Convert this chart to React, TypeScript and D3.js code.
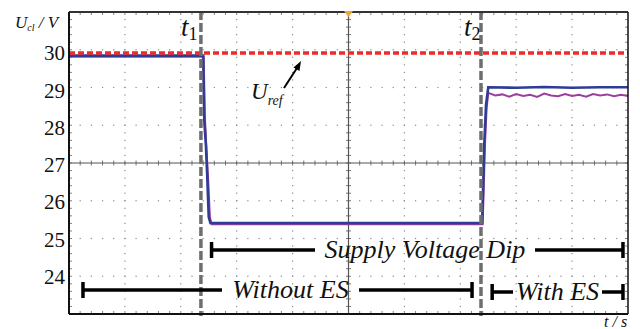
import React from "react";
import * as d3 from "d3";

// Scope trace of the DC-link voltage U_cl (in V) against time (in screen divisions)
const yTicks = [24, 25, 26, 27, 28, 29, 30];
const uRef = 30;
const t1 = 2.36;
const t2 = 7.37;

const blueT = [0, 2.4, 2.42, 2.45, 2.47, 2.5, 2.53, 7.39, 7.41, 7.43, 7.46, 7.5, 8.0, 8.5, 9.0, 9.5, 10];
const blueV = [29.93, 29.93, 28.2, 27.5, 26.8, 25.6, 25.44, 25.44, 26.5, 27.6, 28.6, 29.08, 29.07, 29.09, 29.07, 29.08, 29.08];

const purpleT = [0, 2.41, 2.43, 2.46, 2.49, 2.52, 2.55, 7.4, 7.42, 7.44, 7.47, 7.5,
  7.625, 7.75, 7.875, 8.0, 8.125, 8.25, 8.375, 8.5, 8.625, 8.75, 8.875, 9.0, 9.125, 9.25, 9.375, 9.5, 9.625, 9.75, 9.875, 10];
const purpleV = [29.9, 29.9, 28.3, 27.4, 26.6, 25.6, 25.41, 25.41, 26.4, 27.5, 28.5, 28.93,
  28.86, 28.89, 28.83, 28.9, 28.85, 28.88, 28.82, 28.91, 28.86, 28.84, 28.9, 28.85, 28.88, 28.83, 28.9, 28.86, 28.89, 28.84, 28.88, 28.85];

const W = 640;
const H = 329;
const L = 69, R = 628, T = 12, B = 314;

const x = d3.scaleLinear().domain([0, 10]).range([L, R]);
const y = d3.scaleLinear().domain([23, 31.1]).range([B, T]);

const FONT = "Liberation Serif";

function Bracket({ a, b, yy, label, gapL, gapR, size }: any) {
  const xa = x(a), xb = x(b);
  return (
    <g>
      <g stroke="#000" strokeWidth={3.5}>
        <line x1={xa} x2={xa} y1={yy - 8} y2={yy + 8} />
        <line x1={xb} x2={xb} y1={yy - 8} y2={yy + 8} />
        <line x1={xa} x2={gapL} y1={yy} y2={yy} />
        <line x1={gapR} x2={xb} y1={yy} y2={yy} />
      </g>
      <text x={(gapL + gapR) / 2} y={yy + 8} textAnchor="middle"
        fontFamily={FONT} fontStyle="italic" fontSize={size} fill="#111">{label}</text>
    </g>
  );
}

export default function App() {
  const divW = (R - L) / 10;
  const divH = (B - T) / 8;
  const dots: any[] = [];
  // dotted graticule
  for (let i = 1; i < 10; i++) {
    if (i === 5) continue;
    const gx = L + i * divW;
    for (let k = 1; k < 40; k++) {
      dots.push(<rect key={`v${i}-${k}`} x={gx - 0.6} y={T + k * divH / 5 - 0.6} width={1.2} height={1.2} fill="#8a8a8a" />);
    }
  }
  for (let j = 1; j < 8; j++) {
    if (j === 4) continue;
    const gy = T + j * divH;
    for (let k = 1; k < 50; k++) {
      dots.push(<rect key={`h${j}-${k}`} x={L + k * divW / 5 - 0.6} y={gy - 0.6} width={1.2} height={1.2} fill="#8a8a8a" />);
    }
  }
  const ticks: any[] = [];
  const cx = L + 5 * divW, cy = T + 4 * divH;
  for (let k = 1; k < 50; k++) {
    const tx = L + k * divW / 5;
    ticks.push(<line key={`ct${k}`} x1={tx} x2={tx} y1={cy - 2.5} y2={cy + 2.5} stroke="#555" strokeWidth={0.8} />);
    ticks.push(<line key={`tt${k}`} x1={tx} x2={tx} y1={T} y2={T + 3} stroke="#666" strokeWidth={0.8} />);
    ticks.push(<line key={`bt${k}`} x1={tx} x2={tx} y1={B} y2={B - 3} stroke="#666" strokeWidth={0.8} />);
  }
  for (let k = 1; k < 40; k++) {
    const ty = T + k * divH / 5;
    ticks.push(<line key={`cv${k}`} x1={cx - 2.5} x2={cx + 2.5} y1={ty} y2={ty} stroke="#555" strokeWidth={0.8} />);
    ticks.push(<line key={`lv${k}`} x1={L} x2={L + 3} y1={ty} y2={ty} stroke="#666" strokeWidth={0.8} />);
    ticks.push(<line key={`rv${k}`} x1={R} x2={R - 3} y1={ty} y2={ty} stroke="#666" strokeWidth={0.8} />);
  }

  const path = (ts: number[], vs: number[]) =>
    d3.line<number>().x((d) => x(d)).y((_, i) => y(vs[i]))(ts) || "";

  return (
    <svg width={W} height={H} fontFamily={FONT} style={{ position: "absolute", left: 0, top: 0, background: "#fff" }}>
      {dots}
      <line x1={cx} x2={cx} y1={T} y2={B} stroke="#555" strokeWidth={1.2} />
      <line x1={L} x2={R} y1={cy} y2={cy} stroke="#555" strokeWidth={1.2} />
      {ticks}

      {/* traces */}
      <path d={path(purpleT, purpleV)} fill="none" stroke="#9a3f9e" strokeWidth={2} />
      <path d={path(blueT, blueV)} fill="none" stroke="#2e3c96" strokeWidth={2.6} />

      {/* reference voltage */}
      <line x1={L} x2={R} y1={y(uRef)} y2={y(uRef)} stroke="#ee2a2a" strokeWidth={3.5} strokeDasharray="6 3" />

      {/* event markers */}
      {[t1, t2].map((t) => (
        <line key={t} x1={x(t)} x2={x(t)} y1={T - 1} y2={B + 2} stroke="#6e6e6e" strokeWidth={3.5} strokeDasharray="9 3" />
      ))}

      {/* frame */}
      <line x1={L} x2={R} y1={T} y2={T} stroke="#333" strokeWidth={2} />
      <line x1={L} x2={R} y1={B} y2={B} stroke="#111" strokeWidth={2} />
      <line x1={L} x2={L} y1={T} y2={B} stroke="#111" strokeWidth={2} />
      <line x1={R} x2={R} y1={T} y2={B} stroke="#111" strokeWidth={1.5} />

      {/* trigger marker */}
      <path d={`M${cx - 4.5},${T - 1} L${cx + 4.5},${T - 1} L${cx},${T + 5} Z`} fill="#f5a42a" />

      {/* y tick labels */}
      {yTicks.map((v) => (
        <text key={v} x={65} y={y(v)} dy="0.35em" textAnchor="end" fontFamily={FONT} fontSize={21} fill="#111">{v}</text>
      ))}

      {/* axis titles */}
      <text x={15} y={28} fontFamily={FONT} fontStyle="italic" fontSize={17} fill="#111">
        U<tspan fontSize={10} dy={3}>cl</tspan><tspan dy={-3} fontSize={17}> / V</tspan>
      </text>
      <text x={604} y={327} fontFamily={FONT} fontStyle="italic" fontSize={16} fill="#111">t / s</text>

      {/* t1, t2 labels */}
      <text x={181} y={36} fontFamily={FONT} fontSize={27} fill="#111">
        <tspan fontStyle="italic">t</tspan><tspan fontSize={18} dy={4}>1</tspan>
      </text>
      <text x={464} y={36} fontFamily={FONT} fontSize={27} fill="#111">
        <tspan fontStyle="italic">t</tspan><tspan fontSize={18} dy={4}>2</tspan>
      </text>

      {/* U_ref annotation */}
      <text x={251} y={99} fontFamily={FONT} fontStyle="italic" fontSize={23} fill="#111">
        U<tspan fontSize={14} dy={6}>ref</tspan>
      </text>
      <line x1={284} x2={297} y1={88} y2={68} stroke="#000" strokeWidth={2} />
      <path d="M301,61 L293.5,67.5 L299.5,71 Z" fill="#000" />

      {/* interval brackets */}
      <Bracket a={2.55} b={9.91} yy={250} label="Supply Voltage Dip" gapL={315} gapR={535} size={26} />
      <Bracket a={0.25} b={7.21} yy={290} label="Without ES" gapL={222} gapR={359} size={26} />
      <Bracket a={7.57} b={9.91} yy={292} label="With ES" gapL={513} gapR={602} size={26} />
    </svg>
  );
}
